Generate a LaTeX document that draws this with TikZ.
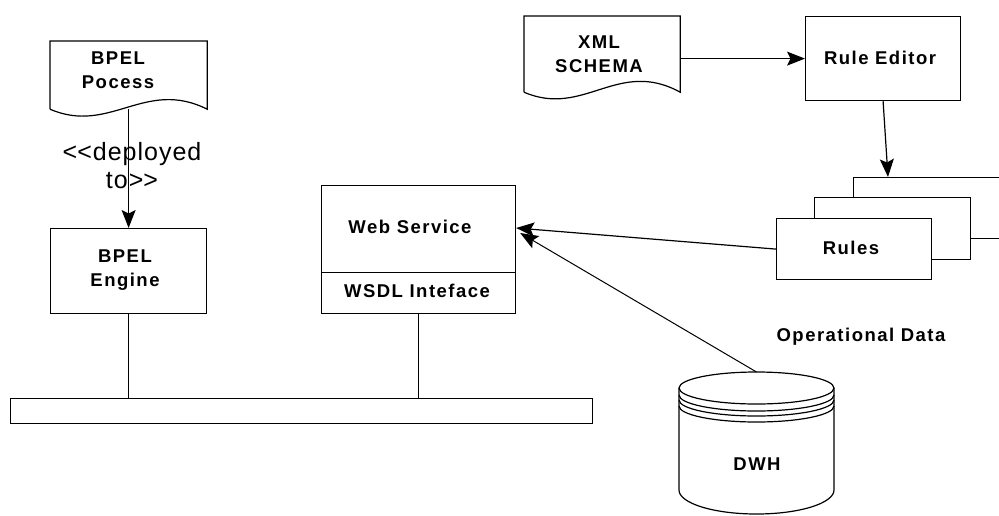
\documentclass[tikz,border=0pt]{standalone}
\usepackage{fontspec}
\setmainfont{Liberation Sans}
\usetikzlibrary{arrows.meta,calc}
\begin{document}
\begin{tikzpicture}[x=1pt,y=-1pt,line width=1.2pt,
  lbl/.style={font=\bfseries\fontsize{18.5}{24}\selectfont\addfontfeature{LetterSpace=8},
              align=center,inner sep=0pt},
  deplbl/.style={font=\fontsize{25}{28}\selectfont\addfontfeature{LetterSpace=4},
              align=center,inner sep=0pt},
  frame/.style={rectangle,inner sep=0pt,anchor=north west},
  box/.style={frame,draw,fill=white},
  arrowhd/.style={-{Stealth[length=18pt,width=14pt,inset=3.5pt]}}]
\useasboundingbox (0,0) rectangle (999,515);

% document shapes (outline drawn below from the node corners)
\node[frame,minimum width=156pt,minimum height=67pt] (proc) at (50,41) {};
\node[frame,minimum width=155pt,minimum height=75pt] (xml) at (524,16) {};
\draw (proc.south west) -- (proc.north west) -- (proc.north east) -- (proc.south east)
  .. controls (145,78) and (110,135) .. (proc.south west);
\draw (xml.south west) -- (xml.north west) -- (xml.north east) -- (xml.south east)
  .. controls (618,58) and (584,118) .. (xml.south west);
\node[lbl] (procT) at (118,70) {BPEL\\Pocess};
\node[lbl] (xmlT) at (599,54) {XML\\SCHEMA};

% boxes
\node[box,minimum width=156pt,minimum height=85pt] (engine) at (50,228) {};
\node[lbl] (engT) at (125,270) {BPEL\\Engine};
\node[box,minimum width=194pt,minimum height=128pt] (ws) at (321,185) {};
\draw ($(ws.south west)+(0,-42)$) -- ($(ws.south east)+(0,-42)$);
\node[lbl] (wsT) at (410,227) {Web Service};
\node[lbl] (wsdl) at (417,291) {WSDL Inteface};
\node[box,minimum width=155pt,minimum height=84pt] (editor) at (805,16) {};
\node[lbl] (edT) at (880,58) {Rule Editor};

% stacked rule sheets
\node[box,minimum width=155pt,minimum height=61pt] (rules3) at (853,177) {};
\node[box,minimum width=156pt,minimum height=62pt] (rules2) at (814,197) {};
\node[box,minimum width=155pt,minimum height=61pt] (rules1) at (776,218) {};
\node[lbl] (rulesT) at (851,248) {Rules};

% bus
\node[box,minimum width=582pt,minimum height=25pt] (bus) at (10,398) {};
\draw (engine.south) -- (engine.south |- bus.north);
\draw (ws.south) -- (ws.south |- bus.north);

% data warehouse cylinder
\coordinate (dwhtop) at (756.5,372);
\draw (679,388) -- (679,490) arc[start angle=180,end angle=0,x radius=77.5,y radius=24] -- (834,388);
\draw (756.5,388) ellipse [x radius=77.5,y radius=16];
\foreach \dy in {7,12,18}
  \draw (679,388+\dy) arc[start angle=180,end angle=0,x radius=77.5,y radius=16];
\node[lbl] (dwhT) at (757,464) {DWH};
\node[lbl] (opT) at (861,337) {Operational Data};

% connectors
\coordinate (wsin) at ($(ws.north east)+(0,43)$);
\coordinate (wsin2) at ($(ws.north east)+(4,48)$);
\coordinate (rin) at ($(rules3.north west)+(35,0)$);
\draw[arrowhd] (proc.south) -- (engine.north);
\node[deplbl] (dep) at (132,166) {<\kern0pt<deployed\\to>\kern0pt>};
\draw[arrowhd] (xml.east |- editor.west) -- (editor.west);
\draw[arrowhd] (editor.south) -- (rin);
\draw[arrowhd] (rules1.west) -- (wsin);
\draw[arrowhd,line width=1pt] (dwhtop) -- (wsin2);
\end{tikzpicture}
\end{document}
